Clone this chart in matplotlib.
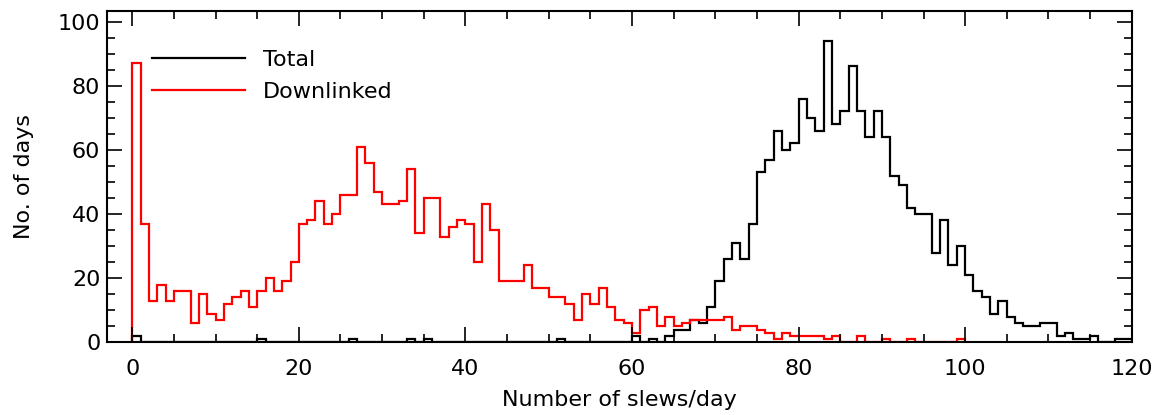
import numpy as np
import matplotlib
matplotlib.use("Agg")
import matplotlib.pyplot as plt
from matplotlib.lines import Line2D

# -----------------------------
# Histogram counts, 1 slew/day bins starting at 0
# -----------------------------
total_counts = [
    2, 0, 0, 0, 0, 0, 0, 0, 0, 0,        # 0-9
    0, 0, 0, 0, 0, 1, 0, 0, 0, 0,        # 10-19
    0, 0, 0, 0, 0, 0, 1, 0, 0, 0,        # 20-29
    0, 0, 0, 1, 0, 1, 0, 0, 0, 0,        # 30-39
    0, 0, 0, 0, 0, 0, 0, 0, 0, 0,        # 40-49
    0, 1, 0, 0, 0, 0, 0, 0, 0, 0,        # 50-59
    2, 0, 1, 0, 2, 4, 4, 7, 6, 11,       # 60-69
    19, 26, 31, 26, 37, 53, 57, 66, 60, 62,   # 70-79
    76, 70, 66, 94, 68, 72, 86, 72, 64, 72,   # 80-89
    64, 52, 49, 42, 40, 40, 28, 38, 24, 30,   # 90-99
    21, 16, 14, 9, 13, 8, 6, 5, 5, 6,         # 100-109
    6, 2, 3, 1, 1, 2, 0, 0, 1, 1,             # 110-119
]

downlinked_counts = [
    87, 37, 13, 18, 13, 16, 16, 6, 15, 9,     # 0-9
    7, 12, 14, 16, 11, 16, 20, 16, 19, 25,    # 10-19
    37, 38, 44, 37, 40, 46, 46, 61, 56, 47,   # 20-29
    43, 43, 44, 54, 34, 45, 45, 33, 36, 38,   # 30-39
    37, 25, 43, 35, 19, 19, 19, 24, 17, 17,   # 40-49
    14, 14, 12, 7, 15, 12, 17, 11, 7, 6,      # 50-59
    3, 10, 11, 5, 8, 5, 6, 7, 7, 7,           # 60-69
    7, 8, 4, 5, 5, 4, 3, 1, 3, 2,             # 70-79
    2, 2, 2, 1, 2, 0, 0, 2, 0, 0,             # 80-89
    1, 0, 0, 1, 0, 0, 0, 0, 0, 1,             # 90-99
]

labels = ["Total", "Downlinked"]
colors = ["black", "red"]

# -----------------------------
# Plot
# -----------------------------
plt.rcParams["font.family"] = "DejaVu Sans"
plt.rcParams["font.size"] = 16

fig = plt.figure(figsize=(11.56, 4.15), dpi=100)
ax = fig.add_axes([0.0928, 0.175, 0.8862, 0.7985])

edges_total = np.arange(len(total_counts) + 1)
edges_down = np.arange(len(downlinked_counts) + 1)

ax.stairs(total_counts, edges_total, baseline=0, color=colors[0], lw=1.6)
ax.stairs(downlinked_counts, edges_down, baseline=0, color=colors[1], lw=1.6)

ax.set_xlim(-3, 120)
ax.set_ylim(0, 103.3)

ax.set_xticks(np.arange(0, 121, 20))
ax.set_xticks(np.arange(0, 121, 5), minor=True)
ax.set_yticks(np.arange(0, 101, 20))
ax.set_yticks(np.arange(0, 101, 5), minor=True)

ax.tick_params(which="both", direction="in", top=True, right=True, width=1.2)
ax.tick_params(which="major", length=11)
ax.tick_params(which="minor", length=5.5)
ax.tick_params(axis="x", pad=12)
ax.tick_params(axis="y", pad=5)
for s in ax.spines.values():
    s.set_linewidth(1.5)

ax.set_xlabel("Number of slews/day", labelpad=8)
ax.set_ylabel("No. of days", labelpad=17)

handles = [Line2D([0], [0], color=c, lw=1.6) for c in colors]
ax.legend(handles, labels, loc="upper left", bbox_to_anchor=(0.035, 0.91),
          frameon=False, handlelength=4.2, handletextpad=0.8,
          labelspacing=0.55, borderaxespad=0)

fig.savefig("out.png", dpi=100)
